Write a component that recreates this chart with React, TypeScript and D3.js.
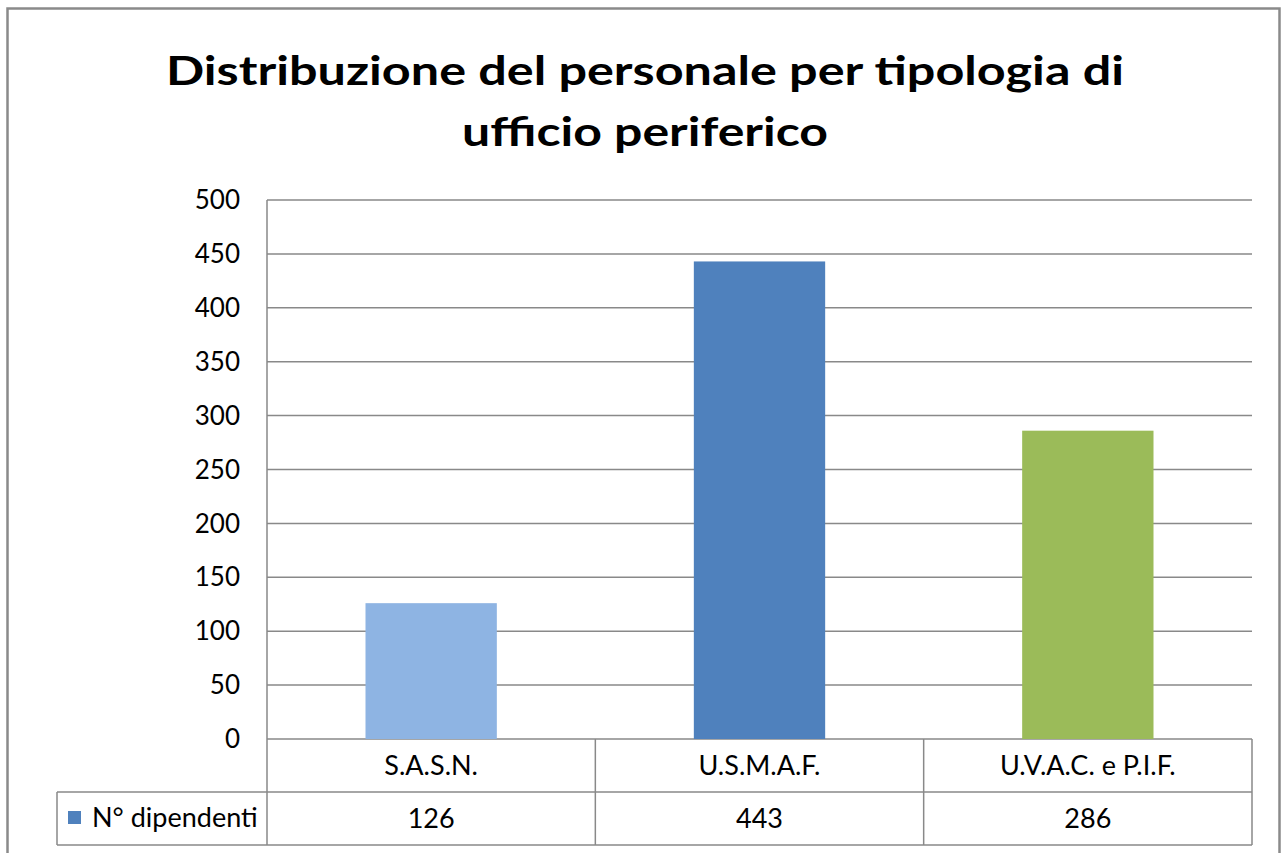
import React from 'react';
import * as d3 from 'd3';

const categories = ['S.A.S.N.', 'U.S.M.A.F.', 'U.V.A.C. e P.I.F.'];
const values = [126, 443, 286];
const barColors = ['#8EB4E3', '#4F81BD', '#9BBB59'];
const seriesName = 'N° dipendenti';
const seriesColor = '#4F81BD';
const yTicks = [0, 50, 100, 150, 200, 250, 300, 350, 400, 450, 500];
const titleLines = ['Distribuzione del personale per tipologia di', 'ufficio periferico'];

const settings = {
  width: 1282,
  height: 853,
  left: 267,
  right: 1252,
  top: 200,
  bottom: 739,
  rowHeight: 53,
  legendLeft: 57,
  grid: '#898989',
  font: 'Lato, "Open Sans", sans-serif'
};

export default function App() {
  const { width, height, left, right, top, bottom, rowHeight, legendLeft, grid, font } = settings;

  const xScale = d3.scaleBand<string>().domain(categories).range([left, right]).padding(0);
  const yScale = d3.scaleLinear().domain([0, 500]).range([bottom, top]);
  const barWidth = xScale.bandwidth() * 0.4;

  const row1 = bottom + rowHeight;
  const row2 = row1 + rowHeight;
  const bounds = [left, ...categories.map((c) => (xScale(c) as number) + xScale.bandwidth())];

  return (
    <svg width={width} height={height} style={{ position: 'absolute', left: 0, top: 0, background: '#fff' }}>
      {/* outer chart border */}
      <rect x={7.5} y={8.5} width={1272} height={870} fill="#fff" stroke="#8a8a8a" strokeWidth={2.5} />

      {titleLines.map((t, i) => (
        <text
          key={t}
          x={645}
          y={85 + i * 61}
          textAnchor="middle"
          fontFamily={font}
          fontWeight="bold"
          fontSize={40}
          textLength={i === 0 ? 958 : 366}
          lengthAdjust="spacingAndGlyphs"
          fill="#000"
        >
          {t}
        </text>
      ))}

      {/* gridlines */}
      {yScale.ticks(10).map((t) => (
        <line key={t} x1={left} x2={right} y1={yScale(t)} y2={yScale(t)} stroke={grid} strokeWidth={1.5} />
      ))}
      <line x1={left} x2={left} y1={top} y2={row2} stroke={grid} strokeWidth={1.5} />

      {/* y labels */}
      {yTicks.map((t) => (
        <text key={t} x={240} y={yScale(t)} dy="0.35em" textAnchor="end" fontFamily={font} fontSize={26} fill="#000">
          {t}
        </text>
      ))}

      {/* bars */}
      {categories.map((c, i) => (
        <rect
          key={c}
          x={(xScale(c) as number) + (xScale.bandwidth() - barWidth) / 2}
          y={yScale(values[i])}
          width={barWidth}
          height={bottom - yScale(values[i])}
          fill={barColors[i]}
        />
      ))}

      {/* data table */}
      <line x1={legendLeft} x2={right} y1={row1} y2={row1} stroke={grid} strokeWidth={1.5} />
      <line x1={legendLeft} x2={right} y1={row2} y2={row2} stroke={grid} strokeWidth={1.5} />
      <line x1={legendLeft} x2={legendLeft} y1={row1} y2={row2} stroke={grid} strokeWidth={1.5} />
      {bounds.slice(1).map((b) => (
        <line key={b} x1={b} x2={b} y1={bottom} y2={row2} stroke={grid} strokeWidth={1.5} />
      ))}
      {categories.map((c, i) => (
        <g key={c}>
          <text
            x={(xScale(c) as number) + xScale.bandwidth() / 2}
            y={bottom + rowHeight / 2}
            dy="0.35em"
            textAnchor="middle"
            fontFamily={font}
            fontSize={27}
            fill="#000"
          >
            {c}
          </text>
          <text
            x={(xScale(c) as number) + xScale.bandwidth() / 2}
            y={row1 + rowHeight / 2}
            dy="0.35em"
            textAnchor="middle"
            fontFamily={font}
            fontSize={27}
            fill="#000"
          >
            {values[i]}
          </text>
        </g>
      ))}
      <rect x={68} y={811} width={13} height={13} fill={seriesColor} />
      <text x={92} y={row1 + rowHeight / 2} dy="0.33em" fontFamily={font} fontSize={27} fill="#000">
        {seriesName}
      </text>
    </svg>
  );
}
